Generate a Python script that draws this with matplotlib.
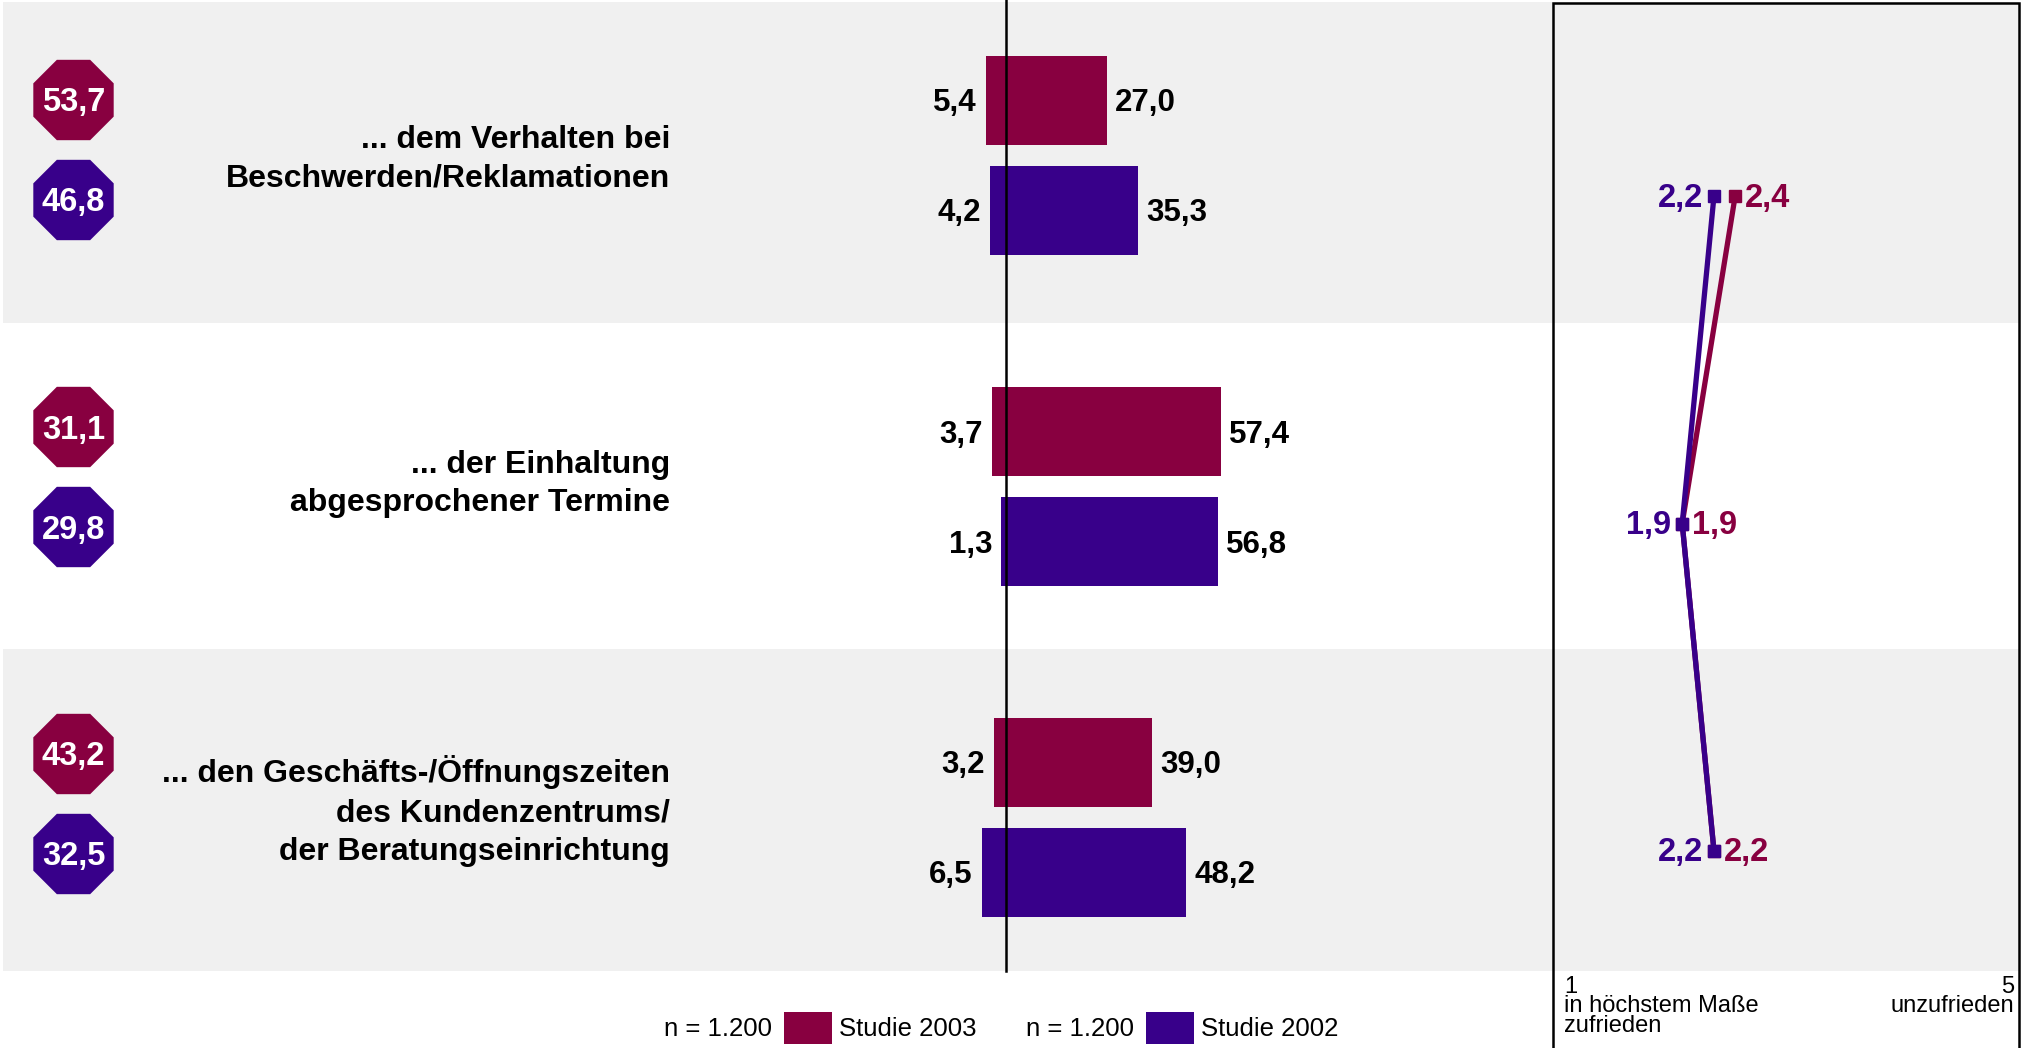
import numpy as np
import matplotlib.pyplot as plt
from matplotlib.patches import RegularPolygon, Rectangle

plt.rcParams['font.family'] = ['Liberation Sans', 'DejaVu Sans']

# Daten
kategorien = ["... dem Verhalten bei\nBeschwerden/Reklamationen",
              "... der Einhaltung\nabgesprochener Termine",
              "... den Geschäfts-/Öffnungszeiten\ndes Kundenzentrums/\nder Beratungseinrichtung"]
studien = ["Studie 2003", "Studie 2002"]
stichprobe = ["n = 1.200", "n = 1.200"]
index_2003 = [53.7, 31.1, 43.2]
index_2002 = [46.8, 29.8, 32.5]
neg_2003 = [5.4, 3.7, 3.2]
pos_2003 = [27.0, 57.4, 39.0]
neg_2002 = [4.2, 1.3, 6.5]
pos_2002 = [35.3, 56.8, 48.2]
mittel_2003 = [2.4, 1.9, 2.2]
mittel_2002 = [2.2, 1.9, 2.2]

c2003 = '#880040'
c2002 = '#38008a'
grau = '#f0f0f0'

W, H = 2022, 1048
fig = plt.figure(figsize=(W / 100, H / 100), dpi=100)

# Grundfläche in Pixelkoordinaten
ax = fig.add_axes([0, 0, 1, 1])
ax.set_xlim(0, W)
ax.set_ylim(H, 0)
ax.axis('off')

baender = [(2, 323), (323, 649), (649, 971)]
for i, (y0, y1) in enumerate(baender):
    farbe = grau if i % 2 == 0 else 'white'
    ax.add_patch(Rectangle((3, y0), 2016, y1 - y0, facecolor=farbe, edgecolor='none', zorder=0))

# Achteck-Kennzahlen und Beschriftung links
text_y = [159, 484, 811]
for i in range(3):
    yc = 150 + 327 * i
    for wert, farbe, dy in [(index_2003[i], c2003, -50), (index_2002[i], c2002, 50)]:
        ax.add_patch(RegularPolygon((73.5, yc + dy), numVertices=8, radius=43.5,
                                    orientation=np.pi / 8, facecolor=farbe,
                                    edgecolor='none', zorder=2))
        ax.text(73.5, yc + dy + 3, f"{wert:.1f}".replace('.', ','), color='white',
                fontsize=23.5, fontweight='bold', ha='center', va='center', zorder=3)
    ax.text(670, text_y[i], kategorien[i], fontsize=23, fontweight='bold',
            ha='right', va='center', multialignment='right', linespacing=1.38)

# Legende
for j, (n, st, farbe) in enumerate(zip(stichprobe, studien, [c2003, c2002])):
    x0 = 772 + 362 * j
    ax.text(x0, 1029, n, fontsize=18.5, ha='right', va='center')
    ax.add_patch(Rectangle((x0 + 12, 1012), 48, 32, facecolor=farbe, edgecolor='none'))
    ax.text(x0 + 67, 1029, st, fontsize=18.5, ha='left', va='center')

# Balken
axb = fig.add_axes([0, 0, 1, 1])
skala = 3.74
axb.set_xlim(-1006 / skala, (W - 1006) / skala)
axb.set_ylim(H, 0)
axb.axis('off')
axb.patch.set_alpha(0)

hoehe = 89
for i in range(3):
    yg = 155.5 + 331 * i
    for neg, pos, farbe, dy in [(neg_2003[i], pos_2003[i], c2003, -55),
                                (neg_2002[i], pos_2002[i], c2002, 55)]:
        y = yg + dy
        axb.barh(y, neg + pos, left=-neg, height=hoehe, color=farbe, zorder=2)
        axb.annotate(f"{neg:.1f}".replace('.', ','), (-neg, y), xytext=(-9, -3),
                     textcoords='offset pixels', ha='right', va='center',
                     fontsize=22.5, fontweight='bold')
        axb.annotate(f"{pos:.1f}".replace('.', ','), (pos, y), xytext=(8, -3),
                     textcoords='offset pixels', ha='left', va='center',
                     fontsize=22.5, fontweight='bold')
axb.plot([0, 0], [0, 971], color='black', lw=1.8, zorder=3)

# Mittelwerte rechts
axr = fig.add_axes([1553 / W, 0, (2019 - 1553) / W, 1])
axr.set_xlim(0.68, 5.08)
axr.set_ylim(H, 0)
axr.axis('off')
axr.patch.set_alpha(0)
yp = [196, 523.5, 851]
axr.plot(mittel_2003, yp, color=c2003, lw=3.8, marker='s', markersize=8, zorder=2)
axr.plot(mittel_2002, yp, color=c2002, lw=3.8, marker='s', markersize=8, zorder=3)
for m3, m2, y in zip(mittel_2003, mittel_2002, yp):
    axr.annotate(f"{m3:.1f}".replace('.', ','), (m3, y), xytext=(10, -2),
                 textcoords='offset pixels', ha='left', va='center', color=c2003,
                 fontsize=23.5, fontweight='bold')
    axr.annotate(f"{m2:.1f}".replace('.', ','), (m2, y), xytext=(-11, -2),
                 textcoords='offset pixels', ha='right', va='center', color=c2002,
                 fontsize=23.5, fontweight='bold')

# Rahmen der Skala
ax.plot([1553, 1553, 2019, 2019], [H, 2.7, 2.7, H], color='black', lw=1.8,
        solid_joinstyle='miter', zorder=5)
ax.text(1564, 976, "1\nin höchstem Maße\nzufrieden", fontsize=17, ha='left', va='top',
        linespacing=0.85)
ax.text(2014, 976, "5\nunzufrieden", fontsize=17, ha='right', va='top',
        multialignment='right', linespacing=0.85)

fig.savefig("out.png")
